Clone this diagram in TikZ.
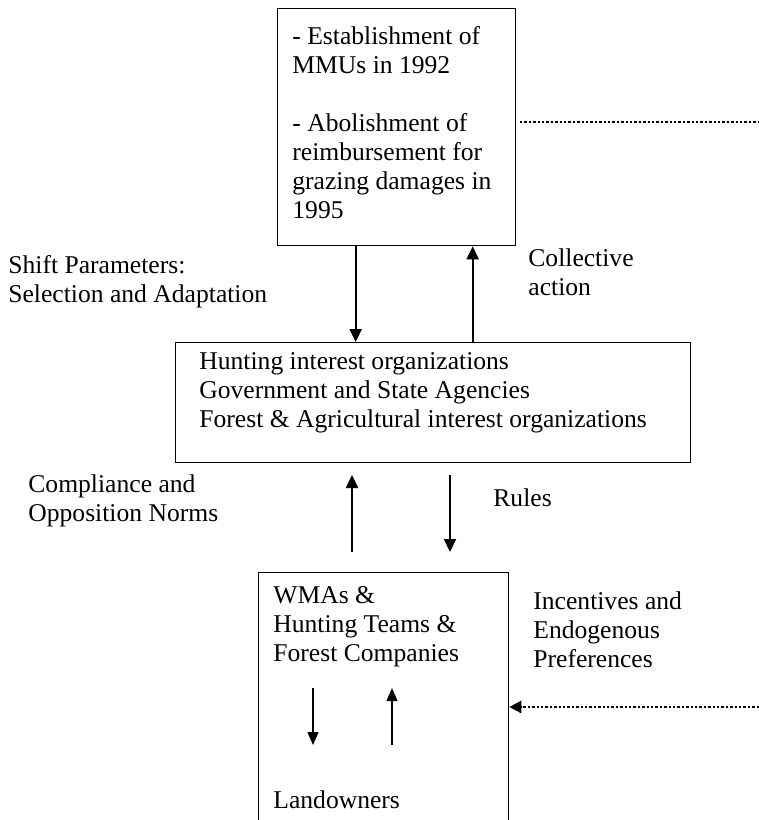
\documentclass[tikz,border=0pt]{standalone}
\usepackage{fontspec}
\setmainfont{Liberation Serif}
\usetikzlibrary{arrows.meta}
\begin{document}
\begin{tikzpicture}[x=0.5pt,y=-0.5pt,
  box/.style={draw, line width=0.65pt, inner sep=0pt, anchor=north west},
  lbl/.style={anchor=base west, inner sep=0pt, align=left, font=\fontsize{12.8}{14.5}\selectfont},
  bigarr/.style={line width=1pt, -{Triangle[width=6pt,length=6.5pt]}},
  smallarr/.style={line width=0.65pt, -{Triangle[width=5.5pt,length=6.5pt]}},
  dotline/.style={line width=1.2pt, dash pattern=on 1.2pt off 1pt}]
\clip (0,0) rectangle (759,820);
% boxes
\node[box, minimum width=119pt, minimum height=118.5pt] (top) at (277,8) {};
\node[box, minimum width=257.5pt, minimum height=60pt] (mid) at (175,342) {};
\node[box, minimum width=125pt, minimum height=134pt] (bot) at (258,572) {};
% box texts (anchor = baseline of last line)
\node[lbl] (toptext) at (292,218) {- Establishment of\\MMUs in 1992\\[14.5pt]- Abolishment of\\reimbursement for\\grazing damages in\\1995};
\node[lbl] (midtext) at (199,427) {Hunting interest organizations\\Government and State Agencies\\Forest \& Agricultural interest organizations};
\node[lbl] (bottext) at (273,661) {WMAs \&\\Hunting Teams \&\\Forest Companies};
\node[lbl] (land) at (273,808) {Landowners};
% labels
\node[lbl] (shift) at (8,302) {Shift Parameters:\\Selection and Adaptation};
\node[lbl] (coll) at (528,295) {Collective\\action};
\node[lbl] (comp) at (28,521) {Compliance and\\Opposition Norms};
\node[lbl] (rules) at (493,506) {Rules};
\node[lbl] (inc) at (533,667) {Incentives and\\Endogenous\\Preferences};
% arrows top <-> mid
\draw[bigarr] ([xshift=-20.5pt]top.south) -- ([xshift=-20.5pt]top.south |- mid.north);
\draw[bigarr] ([xshift=38pt]top.south |- mid.north) -- ([xshift=38pt]top.south);
% arrows mid <-> bot
\coordinate (ua0) at (352,552); \coordinate (ua1) at (352,475);
\coordinate (da0) at (450,475); \coordinate (da1) at (450,552);
\draw[bigarr] (ua0) -- (ua1);
\draw[bigarr] (da0) -- (da1);
% small arrows inside bottom box
\coordinate (sa0) at (313,688); \coordinate (sa1) at (313,745);
\coordinate (sb0) at (392,745); \coordinate (sb1) at (392,688);
\draw[smallarr] (sa0) -- (sa1);
\draw[smallarr] (sb0) -- (sb1);
% dotted lines
\coordinate (d0) at (520,122); \coordinate (d1) at (759,122);
\draw[dotline] (d0) -- (d1);
\coordinate (d2) at (759,707);
\draw[dotline, -{Triangle[width=6pt,length=6pt]}] (d2) -- (bot.east |- d2);
\end{tikzpicture}
\end{document}
